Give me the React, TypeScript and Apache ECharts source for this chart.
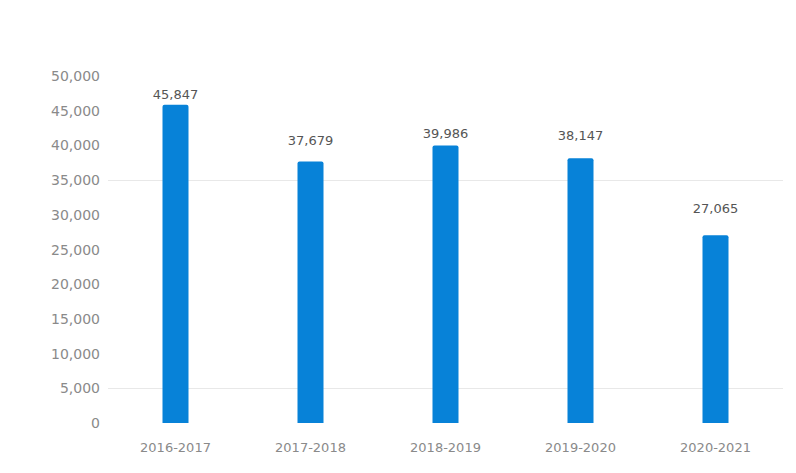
import React, { useEffect, useRef } from "react";
import * as echarts from "echarts";

const categories = ["2016-2017", "2017-2018", "2018-2019", "2019-2020", "2020-2021"];
const values = [45847, 37679, 39986, 38147, 27065];
const yTicks = [0, 5000, 10000, 15000, 20000, 25000, 30000, 35000, 40000, 45000, 50000];

// extra label lift per bar (styling only)
const labelLift = [2, 13, 3, 14, 18];

export default function App() {
  const ref = useRef<HTMLDivElement>(null);
  useEffect(() => {
    if (!ref.current) return;
    const chart = echarts.init(ref.current, null, { renderer: "svg" });
    const fmt = (v: number) => v.toLocaleString("en-US");
    chart.setOption({
      animation: false,
      backgroundColor: "#ffffff",
      grid: { left: 108, right: 13, top: 76, bottom: 50, containLabel: false },
      xAxis: {
        type: "category",
        data: categories,
        axisLine: { show: false },
        axisTick: { show: false },
        axisLabel: {
          color: "#8a8a8a",
          fontSize: 13,
          fontFamily: "DejaVu Sans",
          margin: 18,
        },
      },
      yAxis: {
        type: "value",
        min: yTicks[0],
        max: yTicks[yTicks.length - 1],
        interval: 5000,
        axisLine: { show: false },
        axisTick: { show: false },
        axisLabel: {
          color: "#8a8a8a",
          fontSize: 14,
          fontFamily: "DejaVu Sans",
          margin: 8,
          formatter: (v: number) => fmt(v),
        },
        splitLine: {
          show: true,
          lineStyle: {
            width: 1,
            color: yTicks.map((t) => (t === 5000 || t === 35000 ? "#e8e8e8" : "rgba(0,0,0,0)")),
          },
        },
      },
      series: [
        {
          type: "bar",
          barWidth: 26,
          data: values.map((v, i) => ({
            value: v,
            label: { offset: [0, -labelLift[i]] },
          })),
          itemStyle: { color: "#0782d8", borderRadius: [2, 2, 0, 0] },
          label: {
            show: true,
            position: "top",
            distance: 2,
            color: "#555555",
            fontSize: 13,
            fontFamily: "DejaVu Sans",
            formatter: (p: any) => fmt(p.value),
          },
        },
      ],
    });
    return () => chart.dispose();
  }, []);
  return (
    <div
      ref={ref}
      style={{ position: "fixed", left: 0, top: 0, width: 796, height: 473 }}
    />
  );
}
